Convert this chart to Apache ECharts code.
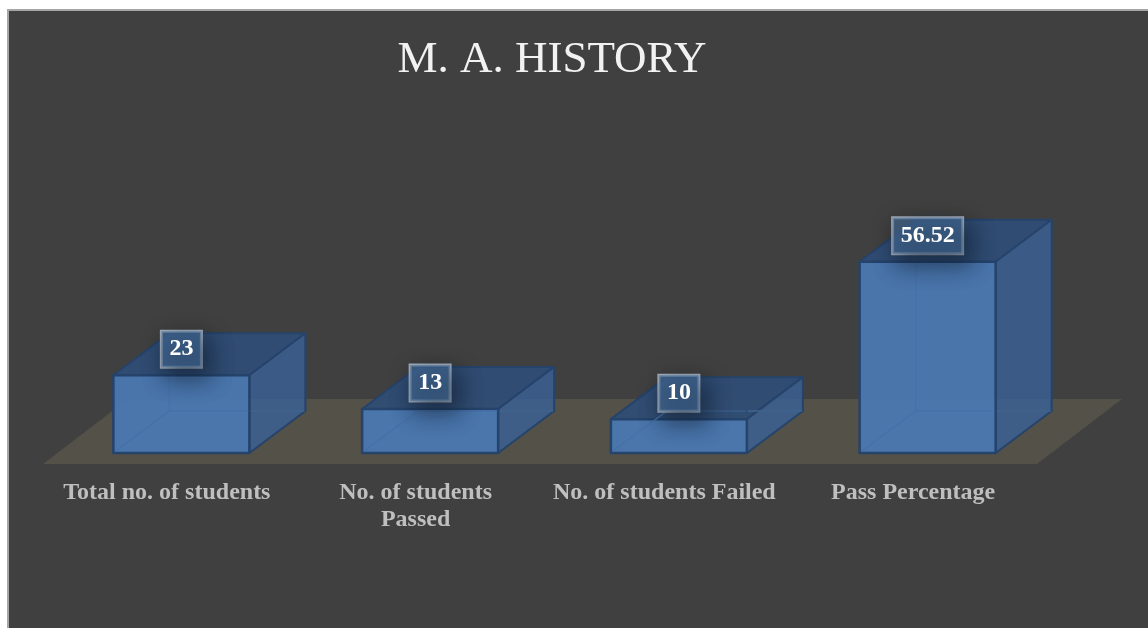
<!DOCTYPE html>
<html>
<head>
<meta charset="utf-8">
<style>
html,body{margin:0;padding:0;background:#fff;width:1148px;height:628px;overflow:hidden}
#frame{position:absolute;left:7px;top:9px;width:1141px;height:619px;box-sizing:border-box;background:#404040;border-left:2px solid #a6a6a6;border-top:2px solid #a6a6a6}
#chart{position:absolute;left:0;top:0;width:1148px;height:628px}
</style>
<script src="https://cdn.jsdelivr.net/npm/echarts@6/dist/echarts.min.js"></script>
</head>
<body>
<div id="frame"></div>
<div id="chart"></div>
<script>
var titleText = 'M. A. HISTORY';
var categories = ['Total no. of students', 'No. of students\nPassed', 'No. of students Failed', 'Pass Percentage'];
var values = [23, 13, 10, 56.52];
var valueLabels = ['23', '13', '10', '56.52'];

var serif = '"Liberation Serif","Times New Roman",serif';
var BAR_W = 136, DX = 56, DY = 42;

function poly(points, fill, stroke, w) {
  return {
    type: 'polygon',
    shape: { points: points },
    style: { fill: fill, stroke: stroke || null, lineWidth: w || 0, lineJoin: 'round' }
  };
}

function seg(xa, ya, xb, yb, color) {
  return {
    type: 'line',
    shape: { x1: xa, y1: ya, x2: xb, y2: yb },
    style: { stroke: color, lineWidth: 1.5 }
  };
}

function renderBox(params, api) {
  var cs = params.coordSys;
  var i = api.value(0);
  var top = api.coord([i, api.value(1)]);
  var base = api.coord([i, 0]);
  var x0 = base[0] - BAR_W / 2, x1 = base[0] + BAR_W / 2;
  var yb = base[1], yt = top[1];
  var edge = '#25436b';
  var kids = [];

  if (params.dataIndex === 0) {
    var fy = yb + 11, by = yb - 54;
    kids.push(poly([
      [cs.x - 14, fy], [cs.x + cs.width - 15, fy],
      [cs.x + cs.width + 70, by], [cs.x + 71, by]
    ], '#545148'));
  }

  var inner = '#4671a8';
  var faint = '#40658f';
  var hy = yb - DY;

  // top face, slightly see-through
  kids.push(poly([[x0, yt], [x1, yt], [x1 + DX, yt - DY], [x0 + DX, yt - DY]], 'rgba(47,77,118,0.92)', edge, 2));
  // side face
  kids.push(poly([[x1, yt], [x1 + DX, yt - DY], [x1 + DX, yb - DY], [x1, yb]], 'rgba(58,96,145,0.86)', edge, 2));
  // back edge seen through the side face
  kids.push(seg(x1 + 1, hy, x1 + DX - 1, hy, faint));
  // front face
  kids.push(poly([[x0, yt], [x1, yt], [x1, yb], [x0, yb]], 'rgba(74,120,176,0.96)', edge, 2.5));
  // back edges seen through the box
  if (hy > yt) {
    kids.push(seg(x0 + DX, yt + 2, x0 + DX, hy, inner));
    kids.push(seg(x0 + DX, hy, x1 - 1, hy, inner));
  } else {
    kids.push(seg(x0 + DX, hy, x1 - 1, hy, '#3a5c88'));
  }
  kids.push(seg(x0 + 2, yb - 2, x0 + DX, hy, inner));

  // value label
  kids.push({
    type: 'text',
    x: base[0],
    y: yt - 26,
    style: {
      text: valueLabels[params.dataIndex],
      fill: '#ffffff',
      font: 'bold 24px ' + serif,
      align: 'center',
      verticalAlign: 'middle',
      padding: [6, 8, 6, 8],
      backgroundColor: 'rgba(70,108,152,0.6)',
      borderColor: '#a0abb9',
      borderWidth: 1.5,
      shadowColor: 'rgba(10,20,35,0.9)',
      shadowBlur: 22,
      shadowOffsetX: 6,
      shadowOffsetY: 9
    }
  });
  return { type: 'group', children: kids };
}

var chart = echarts.init(document.getElementById('chart'), null, { renderer: 'canvas' });
chart.setOption({
  backgroundColor: 'transparent',
  animation: false,
  title: {
    text: titleText,
    left: 547,
    top: 33,
    textAlign: 'center',
    textStyle: { color: '#f2f2f2', fontFamily: serif, fontWeight: 'normal', fontSize: 45 }
  },
  grid: { left: 57, right: 96, top: 250, bottom: 175, containLabel: false },
  xAxis: {
    type: 'category',
    data: categories,
    axisLine: { show: false },
    axisTick: { show: false },
    splitLine: { show: false },
    axisLabel: {
      interval: 0,
      margin: 26,
      color: '#bfbfbf',
      fontFamily: serif,
      fontWeight: 'bold',
      fontSize: 24,
      lineHeight: 27,
      padding: [0, 29, 0, 0]
    }
  },
  yAxis: { type: 'value', min: 0, max: 60, show: false },
  series: [{
    type: 'custom',
    coordinateSystem: 'cartesian2d',
    renderItem: renderBox,
    encode: { x: 0, y: 1 },
    data: values.map(function (v, i) { return [i, v]; })
  }]
});
</script>
</body>
</html>
